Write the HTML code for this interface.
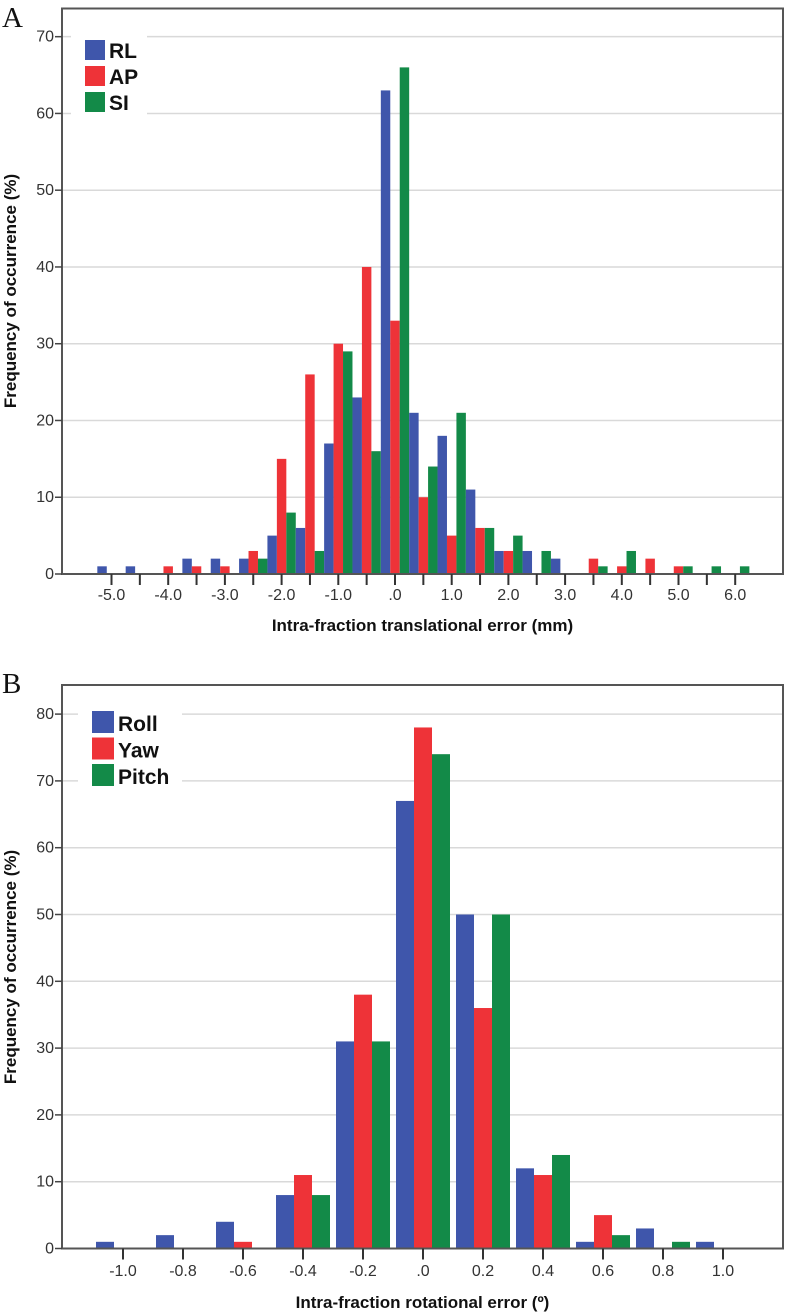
<!DOCTYPE html>
<html><head><meta charset="utf-8">
<style>
html,body{margin:0;padding:0;background:#fff;}
svg{display:block;}
.tk{font-family:"Liberation Sans",sans-serif;font-size:16px;fill:#333;}
.ttl{font-family:"Liberation Sans",sans-serif;font-size:17px;font-weight:bold;fill:#111;}
.lg{font-family:"Liberation Sans",sans-serif;font-size:21px;font-weight:bold;fill:#111;}
.pl{font-family:"Liberation Serif",serif;font-size:29px;fill:#111;}
</style></head>
<body>
<svg id="root" width="787" height="1315" xmlns="http://www.w3.org/2000/svg">
<text class="pl" x="2" y="27">A</text>
<text class="pl" x="2" y="693">B</text>
<g id="chartA"></g>
<g id="chartB"></g>
</svg>
<script>
// Chart A data
const catsA = ["-5.0","-4.5","-4.0","-3.5","-3.0","-2.5","-2.0","-1.5","-1.0","-0.5",".0","0.5","1.0","1.5","2.0","2.5","3.0","3.5","4.0","4.5","5.0","5.5","6.0"];
const rlA = [1,1,0,2,2,2,5,6,17,23,63,21,18,11,3,3,2,0,0,0,0,0,0];
const apA = [0,0,1,1,1,3,15,26,30,40,33,10,5,6,3,0,0,2,1,2,1,0,0];
const siA = [0,0,0,0,0,2,8,3,29,16,66,14,21,6,5,3,0,1,3,0,1,1,1];
const ticksA = [0,10,20,30,40,50,60,70];
const xLabelsA = ["-5.0","-4.0","-3.0","-2.0","-1.0",".0","1.0","2.0","3.0","4.0","5.0","6.0"];
const namesA = ["RL","AP","SI"];
// Chart B data
const catsB = ["-1.0","-0.8","-0.6","-0.4","-0.2",".0","0.2","0.4","0.6","0.8","1.0"];
const rollB = [1,2,4,8,31,67,50,12,1,3,1];
const yawB = [0,0,1,11,38,78,36,11,5,0,0];
const pitchB = [0,0,0,8,31,74,50,14,2,1,0];
const ticksB = [0,10,20,30,40,50,60,70,80];
const namesB = ["Roll","Yaw","Pitch"];

const COLORS = ["#3f56ab","#ee3338","#138a48"];
const NS = "http://www.w3.org/2000/svg";
function mk(tag, attrs, parent){const e=document.createElementNS(NS,tag);for(const k in attrs)e.setAttribute(k,attrs[k]);parent.appendChild(e);return e;}

function drawChart(g, cfg){
  const {left,right,top,zero,unit,x0,step,cats,series,ticks,xLabels,labelEvery,barW,names,legend,xTitle,yTitleY,labY,titleY} = cfg;
  const yS = v => zero - v*unit;
  const xS = i => x0 + i*step;
  ticks.forEach(t=>{
    if(t===0) return;
    const l=mk("line",{x1:left,x2:right,y1:yS(t),y2:yS(t),stroke:"#d9d9d9","stroke-width":1.5},g);
    
    
  });
  const lb=mk("rect",{x:legend.x-14,y:legend.y-10,width:legend.w,height:legend.h,fill:"#fff"},g);
  
  
  cats.forEach((c,i)=>{
    series.forEach((s,k)=>{
      const v=s[i]; if(v<=0) return;
      const r=mk("rect",{x:xS(i)-1.5*barW+k*barW,y:yS(v),width:barW,height:zero-yS(v),fill:COLORS[k]},g);
      
      
    });
  });
  const f=mk("rect",{x:left,y:top,width:right-left,height:zero-top,fill:"none",stroke:"#555","stroke-width":2},g);
  
  
  ticks.forEach(t=>{
    mk("line",{x1:left-7,x2:left,y1:yS(t),y2:yS(t),stroke:"#444","stroke-width":1.5},g);
    const tx=mk("text",{x:left-8,y:yS(t)+5,"text-anchor":"end",class:"tk"},g);
    tx.textContent=t;
    
    
  });
  cats.forEach((c,i)=>{
    mk("line",{x1:xS(i),x2:xS(i),y1:zero,y2:zero+11,stroke:"#333","stroke-width":2},g);
  });
  xLabels.forEach((lab,j)=>{
    const tx=mk("text",{x:xS(j*labelEvery),y:labY,"text-anchor":"middle",class:"tk"},g);
    tx.textContent=lab;
    
    
  });
  const xt=mk("text",{x:(left+right)/2,y:titleY,"text-anchor":"middle",class:"ttl"},g);
  xt.textContent=xTitle;
  
  
  const yt=mk("text",{x:0,y:0,"text-anchor":"middle",class:"ttl",transform:"translate(16,"+yTitleY+") rotate(-90)"},g);
  yt.textContent="Frequency of occurrence (%)";
  
  
  names.forEach((n,k)=>{
    const y=legend.y+k*legend.dy;
    const sw=mk("rect",{x:legend.x,y:y,width:legend.s,height:legend.s,fill:COLORS[k]},g);
    
    
    const tx=mk("text",{x:legend.x+legend.s+4,y:y+legend.s-2,class:"lg"},g);
    tx.textContent=n;
    
    
  });
}

drawChart(document.getElementById("chartA"),{
  left:62,right:783,top:8.5,zero:574,unit:7.676,x0:111.5,step:28.35,
  cats:catsA,series:[rlA,apA,siA],ticks:ticksA,xLabels:xLabelsA,labelEvery:2,barW:9.45,
  names:namesA,legend:{x:85,y:40,dy:26,s:20,w:76,h:88},
  xTitle:"Intra-fraction translational error (mm)",yTitleY:291,labY:600,titleY:631
});
drawChart(document.getElementById("chartB"),{
  left:62,right:783,top:685,zero:1248.5,unit:6.68,x0:123,step:60,
  cats:catsB,series:[rollB,yawB,pitchB],ticks:ticksB,xLabels:catsB,labelEvery:1,barW:18,
  names:namesB,legend:{x:92,y:711,dy:26.5,s:22,w:104,h:90},
  xTitle:"Intra-fraction rotational error (º)",yTitleY:967,labY:1276,titleY:1308
});
</script>
</body></html>
